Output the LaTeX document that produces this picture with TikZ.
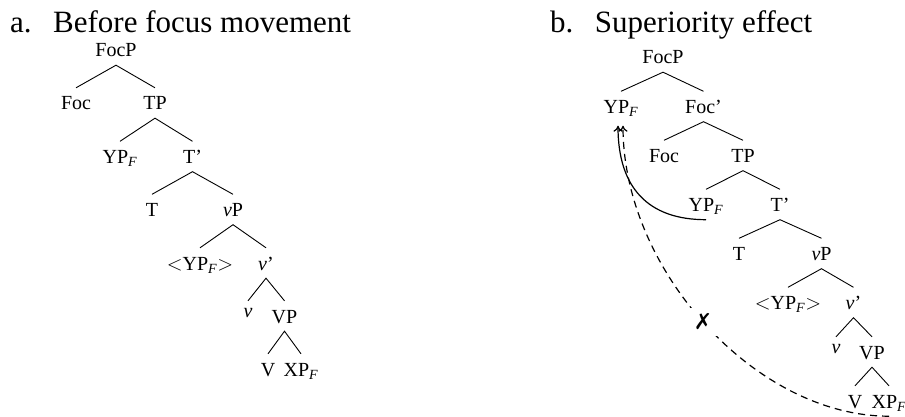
\documentclass[tikz,border=0pt]{standalone}
\usepackage{fontspec}
\setmainfont{Liberation Serif}
\newfontfamily\symfont{DejaVu Sans}
\usetikzlibrary{arrows.meta}

\newcommand{\ypf}{YP\textsubscript{\textit{F}}}
\newcommand{\xpf}{XP\textsubscript{\textit{F}}}

\begin{document}
\begin{tikzpicture}[
        x=1pt, y=-1pt,
        title/.style={anchor=base west, inner sep=0pt, font=\fontsize{31}{36}\selectfont},
        tnode/.style={anchor=base, inner xsep=1pt, inner ysep=5pt, text height=17pt, text depth=3pt, font=\fontsize{20}{24}\selectfont},
        lownode/.style={tnode, text height=11pt},
        branch/.style={line width=0.9pt},
        move/.style={-{To[length=6pt, width=9pt]}, line width=1.2pt},
        blocked/.style={move, dash pattern=on 7pt off 5pt},
        cross/.style={fill=white, inner sep=6pt, font=\symfont\bfseries\fontsize{22}{24}\selectfont}
    ]
    \useasboundingbox (0,0) rectangle (905,417);

    % Titles
    \node (a-title) [title] at (10,33) {a.\hspace{21.5pt}Before focus movement};
    \node (b-title) [title] at (550,33) {b.\hspace{21.5pt}Superiority effect};

    % Tree a: before focus movement
    \node (a-focp) [tnode] at (116,57) {FocP};
    \node (a-foc) [tnode] at (76,110) {Foc};
    \node (a-tp) [tnode] at (155,110) {TP};
    \node (a-yp) [tnode] at (120,163.5) {\ypf};
    \node (a-tbar) [tnode] at (192.5,163.5) {T'};
    \node (a-t) [tnode] at (152,216.5) {T};
    \node (a-vp) [tnode] at (233,216.5) {\textit{v}P};
    \node (a-ypcopy) [tnode] at (200,270) {$<$\ypf$>$};
    \node (a-vbar) [tnode] at (266,270) {\textit{v}'};
    \node (a-v) [lownode] at (248,317) {\textit{v}};
    \node (a-vpp) [tnode] at (284.5,323) {VP};
    \node (a-verb) [tnode] at (268,376) {V};
    \node (a-xp) [tnode] at (301,376) {\xpf};

    % Branches a
    \draw [branch] (a-foc.north) -- (a-focp.south) -- (a-tp.north);
    \draw [branch] (a-yp.north) -- (a-tp.south) -- (a-tbar.north);
    \draw [branch] (a-t.north) -- (a-tbar.south) -- (a-vp.north);
    \draw [branch] (a-ypcopy.north) -- (a-vp.south) -- (a-vbar.north);
    \draw [branch] (a-v.north) -- (a-vbar.south) -- (a-vpp.north);
    \draw [branch] (a-verb.north) -- (a-vpp.south) -- (a-xp.north);

    % Tree b: superiority effect
    \node (b-focp) [tnode] at (663,64) {FocP};
    \node (b-yp) [tnode] at (621,113.5) {\ypf};
    \node (b-focbar) [tnode] at (703.5,113.5) {Foc'};
    \node (b-foc) [tnode] at (664,162.5) {Foc};
    \node (b-tp) [tnode] at (743,162.5) {TP};
    \node (b-yplow) [tnode] at (706,211.5) {\ypf};
    \node (b-tbar) [tnode] at (780,211.5) {T'};
    \node (b-t) [tnode] at (739,260.5) {T};
    \node (b-vp) [tnode] at (821.5,260.5) {\textit{v}P};
    \node (b-ypcopy) [tnode] at (788,309.5) {$<$\ypf$>$};
    \node (b-vbar) [tnode] at (853.5,309.5) {\textit{v}'};
    \node (b-v) [lownode] at (836,353) {\textit{v}};
    \node (b-vpp) [tnode] at (872,359) {VP};
    \node (b-verb) [tnode] at (855,408) {V};
    \node (b-xp) [tnode] at (889,408) {\xpf};

    % Branches b
    \draw [branch] (b-yp.north) -- (b-focp.south) -- (b-focbar.north);
    \draw [branch] (b-foc.north) -- (b-focbar.south) -- (b-tp.north);
    \draw [branch] (b-yplow.north) -- (b-tp.south) -- (b-tbar.north);
    \draw [branch] (b-t.north) -- (b-tbar.south) -- (b-vp.north);
    \draw [branch] (b-ypcopy.north) -- (b-vp.south) -- (b-vbar.north);
    \draw [branch] (b-v.north) -- (b-vbar.south) -- (b-vpp.north);
    \draw [branch] (b-verb.north) -- (b-vpp.south) -- (b-xp.north);

    % Movement arrows
    \draw [move] (b-yplow.south) .. controls +(-58,0) and +(0,62) .. ([xshift=-3pt,yshift=-4pt]b-yp.south);
    \draw [blocked] (b-xp.south) .. controls +(-133,0) and +(0,145) .. ([xshift=2pt,yshift=-4pt]b-yp.south) node [cross, pos=0.51] {✗};
\end{tikzpicture}
\end{document}
